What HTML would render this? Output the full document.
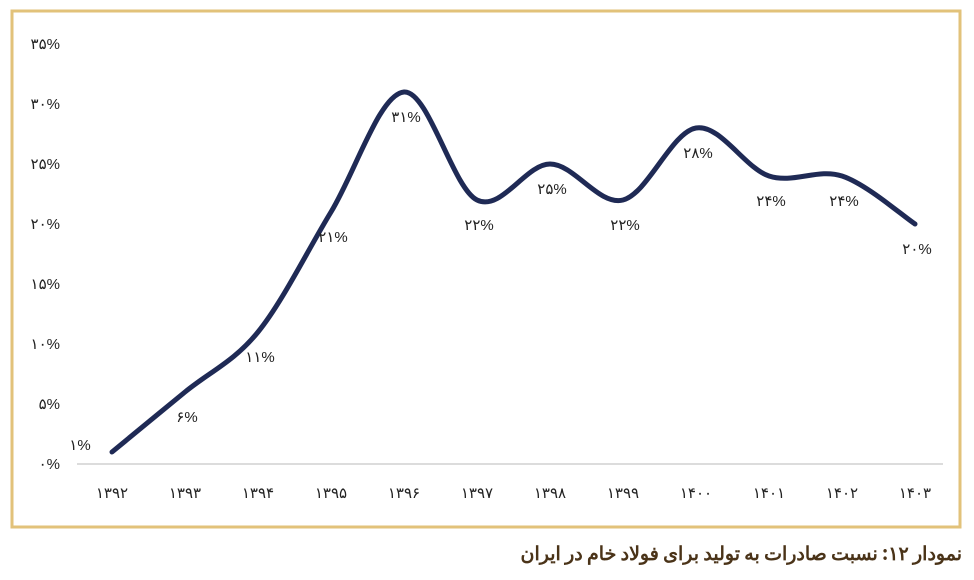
<!DOCTYPE html>
<html><head><meta charset="utf-8"><style>
body{margin:0;background:#fff;width:974px;height:580px;overflow:hidden;font-family:"Liberation Sans","Noto Sans CJK SC",sans-serif;position:relative}
#cap{position:absolute;right:12px;top:540px;direction:rtl;font-family:"Noto Sans CJK SC","Liberation Sans",sans-serif;font-size:19px;font-weight:bold;color:#4a3318;white-space:nowrap;line-height:26px}
</style></head><body>
<svg width="974" height="580" style="position:absolute;left:0;top:0">
<rect x="12" y="11" width="948" height="516" fill="#fff" stroke="#e2c27a" stroke-width="3"/>
<g id="yticks"></g>
<g id="xticks"></g>
<line x1="77" y1="464" x2="943" y2="464" stroke="#d0d0d0" stroke-width="1.5"/>
<path id="line" fill="none" stroke="#1f2a55" stroke-width="5" stroke-linecap="round"/>
<g id="labels"></g>
</svg>
<div id="cap">نمودار ۱۲: نسبت صادرات به تولید برای فولاد خام در ایران</div>
<script>
const categories=["۱۳۹۲","۱۳۹۳","۱۳۹۴","۱۳۹۵","۱۳۹۶","۱۳۹۷","۱۳۹۸","۱۳۹۹","۱۴۰۰","۱۴۰۱","۱۴۰۲","۱۴۰۳"];
const values=[1,6,11,21,31,22,25,22,28,24,24,20];
const valueLabels=["۱%","۶%","۱۱%","۲۱%","۳۱%","۲۲%","۲۵%","۲۲%","۲۸%","۲۴%","۲۴%","۲۰%"];
const yTicks=[0,5,10,15,20,25,30,35];
const yTickLabels=["۰%","۵%","۱۰%","۱۵%","۲۰%","۲۵%","۳۰%","۳۵%"];
const NS="http://www.w3.org/2000/svg";
const xs=i=>112+i*73;
const ys=v=>464-v*(420/35);
function t(g,x,y,s,anchor){const e=document.createElementNS(NS,"text");e.setAttribute("x",x);e.setAttribute("y",y);e.setAttribute("font-size","15");e.setAttribute("fill","#222");e.setAttribute("text-anchor",anchor||"middle");e.textContent=s;g.appendChild(e);return e;}
const yg=document.getElementById("yticks");
yTicks.forEach((v,i)=>{const e=t(yg,60,ys(v)+5,yTickLabels[i],"end");

});
const xg=document.getElementById("xticks");
categories.forEach((c,i)=>{const e=t(xg,xs(i),498,c);

});
const pts=values.map((v,i)=>[xs(i),ys(v)]);
let d="M"+pts[0][0]+","+pts[0][1];
for(let i=0;i<pts.length-1;i++){const p0=pts[Math.max(0,i-1)],p1=pts[i],p2=pts[i+1],p3=pts[Math.min(pts.length-1,i+2)];
const k=1/6;
d+=" C"+(p1[0]+(p2[0]-p0[0])*k)+","+(p1[1]+(p2[1]-p0[1])*k)+" "+(p2[0]-(p3[0]-p1[0])*k)+","+(p2[1]-(p3[1]-p1[1])*k)+" "+p2[0]+","+p2[1];}
document.getElementById("line").setAttribute("d",d);
const lg=document.getElementById("labels");
values.forEach((v,i)=>{let x=xs(i)+2,y=ys(v)+30;if(i===0){x=xs(i)-32;y=ys(v)-2;}
const e=t(lg,x,y,valueLabels[i]);

});
</script>
</body></html>
